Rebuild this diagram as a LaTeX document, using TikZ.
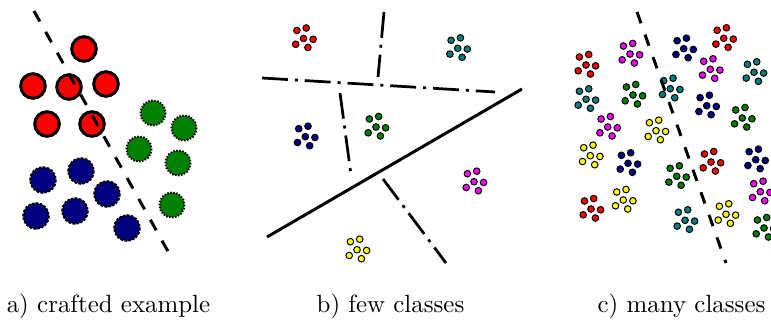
\documentclass[tikz,border=0pt]{standalone}
\definecolor{cgreen}{RGB}{0,128,0}
\definecolor{cnavy}{RGB}{0,0,128}
\definecolor{cteal}{RGB}{0,128,128}
\definecolor{cred}{RGB}{255,0,0}
\definecolor{cmag}{RGB}{255,0,255}
\definecolor{cyel}{RGB}{255,255,0}
\newcommand\clu[3]{%
  \foreach \dx/\dy in {-6.6/-8,2.7/-10.5,0/0,9.6/0.8,-7.8/5.8,4.4/9}{%
    \filldraw[dotstyle,fill=#3,shift={(#1,#2)}] (\dx,\dy) circle[radius=3.3];}}
\begin{document}
\begin{tikzpicture}[x=0.4016pt,y=-0.4016pt,
  dotstyle/.style={draw=black,line width=0.4pt},
  bigred/.style={draw=black,fill=cred,line width=1.2pt},
  biggreen/.style={draw=black,fill=cgreen,line width=0.8pt,dash pattern=on 0.6pt off 0.6pt},
  bigblue/.style={draw=black,fill=cnavy,line width=0.8pt,dash pattern=on 1.1pt off 0.5pt},
  sepdash/.style={line width=1.2pt,dash pattern=on 4.8pt off 4.8pt},
  sepsolid/.style={line width=1.2pt},
  sepdashdot/.style={line width=1.1pt,dash pattern=on 10.4pt off 2.8pt on 1.2pt off 2.8pt},
  caption/.style={anchor=base,inner sep=0pt}]
\useasboundingbox (0,0) rectangle (771,322);
\clip (0,0) rectangle (771,322);
% ---------- panel a ----------
\foreach \x/\y in {84/49,33/86,69/87,106/84,47/124,92/124}{\path[bigred] (\x,\y) circle[radius=12.3];}
\foreach \x/\y in {153/113,184/128,139/149,178/163,172/205}{\path[biggreen] (\x,\y) circle[radius=12.5];}
\foreach \x/\y in {43/180,81/171,107/194,36/216,75/211,127/228}{\path[bigblue] (\x,\y) circle[radius=12.8];}
\coordinate (a1) at (34,11);
\coordinate (a2) at (170,255);
\draw[sepdash] (a1) -- (a2);
% ---------- panel b ----------
\clu{303.5}{38.5}{cred}
\clu{457.7}{48.3}{cteal}
\clu{305.3}{136.7}{cnavy}
\clu{376}{127}{cgreen}
\clu{474}{181.7}{cmag}
\clu{357}{249.7}{cyel}
\coordinate (s1) at (267,237);
\coordinate (s2) at (522,89);
\coordinate (h1) at (262,78);
\coordinate (h2) at (495,92);
\coordinate (v1) at (384,12);
\coordinate (v2) at (378,77);
\coordinate (m1) at (340,93);
\coordinate (m2) at (351,175);
\coordinate (d1) at (383,179);
\coordinate (d2) at (446,263);
\draw[sepsolid] (s1) -- (s2);
\draw[sepdashdot] (h1) -- (h2);
\draw[sepdashdot] (v1) -- (v2);
\draw[sepdashdot] (m1) -- (m2);
\draw[sepdashdot] (d1) -- (d2);
% ---------- panel c ----------
\clu{723.7}{38.3}{cred}
\clu{683.7}{48.7}{cnavy}
\clu{630}{54}{cmag}
\clu{586}{65}{cred}
\clu{710.3}{69.3}{cmag}
\clu{754}{72.3}{cteal}
\clu{670.3}{88.7}{cteal}
\clu{633}{95}{cgreen}
\clu{586}{99.3}{cteal}
\clu{706.7}{105.7}{cnavy}
\clu{742.3}{118}{cgreen}
\clu{607.7}{127}{cmag}
\clu{656}{130.7}{cyel}
\clu{590.3}{155.7}{cyel}
\clu{628}{163.3}{cnavy}
\clu{711}{162}{cred}
\clu{755.7}{159.7}{cnavy}
\clu{676.7}{176.3}{cgreen}
\clu{760.3}{191.7}{cmag}
\clu{591}{209}{cred}
\clu{623.3}{200}{cyel}
\clu{726}{214.3}{cyel}
\clu{685}{220.3}{cteal}
\clu{764}{228}{cgreen}
\coordinate (c1) at (637,12);
\coordinate (c2) at (726,263);
\draw[sepdash] (c1) -- (c2);
% ---------- captions ----------
\node[caption] (capa) at (108.5,312) {a) crafted example};
\node[caption] (capb) at (390.5,312) {b) few classes};
\node[caption] (capc) at (681.5,312) {c) many classes};
\end{tikzpicture}
\end{document}
